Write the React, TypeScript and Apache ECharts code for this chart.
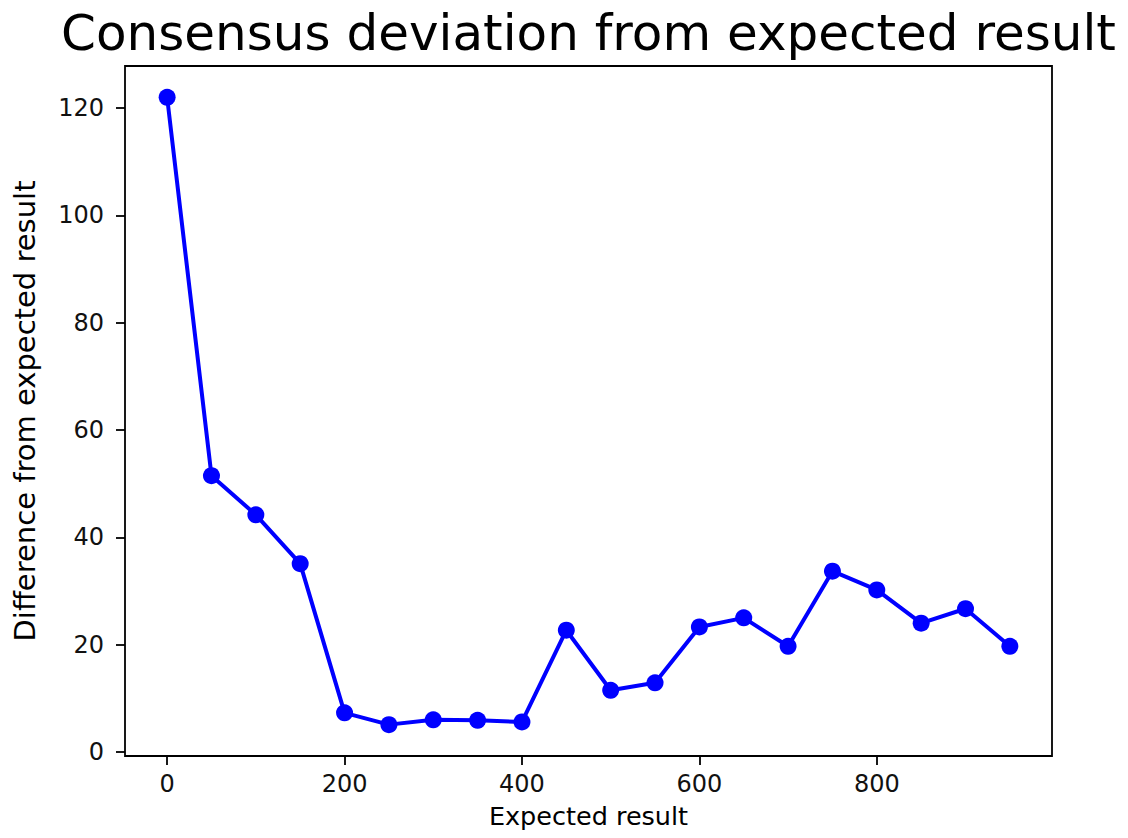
import React, { useEffect, useRef } from "react";
import * as echarts from "echarts";

// Expected result (x) and the consensus deviation measured at each point (y)
const expected = [0, 50, 100, 150, 200, 250, 300, 350, 400, 450, 500, 550, 600, 650, 700, 750, 800, 850, 900, 950];
const deviation = [122.0, 51.5, 44.2, 35.1, 7.3, 5.1, 6.0, 5.9, 5.6, 22.7, 11.5, 12.9, 23.3, 25.0, 19.7, 33.7, 30.2, 24.0, 26.7, 19.7];

const xTicks = [0, 200, 400, 600, 800];
const yTicks = [0, 20, 40, 60, 80, 100, 120];

const FONT = "DejaVu Sans";

const GRID_LEFT = 125;
const GRID_TOP = 66;
const GRID_W = 927;
const GRID_H = 690;

export default function App() {
  const ref = useRef<HTMLDivElement>(null);

  useEffect(() => {
    if (!ref.current) return;
    const chart = echarts.init(ref.current, undefined, { renderer: "svg" });

    // 5% padding around the data range on both axes
    const xMinD = Math.min(...expected);
    const xMaxD = Math.max(...expected);
    const yMinD = Math.min(...deviation);
    const yMaxD = Math.max(...deviation);
    const xPad = (xMaxD - xMinD) * 0.05;
    const yPad = (yMaxD - yMinD) * 0.05;

    chart.setOption({
      animation: false,
      backgroundColor: "#ffffff",
      graphic: [
        {
          type: "text",
          x: GRID_LEFT + GRID_W / 2,
          y: 8,
          style: {
            text: "Consensus deviation from expected result",
            fontFamily: FONT,
            fontSize: 50,
            fill: "#000",
            align: "center",
            verticalAlign: "top",
          },
        },
      ],
      grid: {
        left: GRID_LEFT,
        top: GRID_TOP,
        width: GRID_W,
        height: GRID_H,
        show: true,
        borderColor: "#000",
        borderWidth: 1.8,
        backgroundColor: "#fff",
      },
      xAxis: {
        type: "value",
        min: xMinD - xPad,
        max: xMaxD + xPad,
        name: "Expected result",
        nameLocation: "middle",
        nameGap: 47,
        nameTextStyle: { fontFamily: FONT, fontSize: 25.5, color: "#000" },
        axisLine: { show: false, onZero: false },
        splitLine: { show: false },
        axisTick: {
          show: true,
          inside: false,
          length: 9,
          customValues: xTicks,
          lineStyle: { color: "#000", width: 1.8 },
        },
        axisLabel: {
          customValues: xTicks,
          margin: 16,
          fontFamily: FONT,
          fontSize: 24,
          color: "#111",
        },
      },
      yAxis: {
        type: "value",
        min: yMinD - yPad,
        max: yMaxD + yPad,
        name: "Difference from expected result",
        nameLocation: "middle",
        nameRotate: 90,
        nameGap: 86,
        nameTextStyle: { fontFamily: FONT, fontSize: 29, color: "#000" },
        axisLine: { show: false, onZero: false },
        splitLine: { show: false },
        axisTick: {
          show: true,
          inside: false,
          length: 9,
          customValues: yTicks,
          lineStyle: { color: "#000", width: 1.8 },
        },
        axisLabel: {
          customValues: yTicks,
          margin: 21,
          fontFamily: FONT,
          fontSize: 24,
          color: "#111",
        },
      },
      series: [
        {
          type: "line",
          data: expected.map((x, i) => [x, deviation[i]]),
          color: "#0000ff",
          lineStyle: { color: "#0000ff", width: 4 },
          itemStyle: { color: "#0000ff" },
          symbol: "circle",
          symbolSize: 17,
          showSymbol: true,
          clip: false,
        },
      ],
    });

    return () => chart.dispose();
  }, []);

  return (
    <div
      ref={ref}
      style={{ position: "fixed", left: 0, top: 0, width: 1128, height: 838, background: "#fff" }}
    />
  );
}
